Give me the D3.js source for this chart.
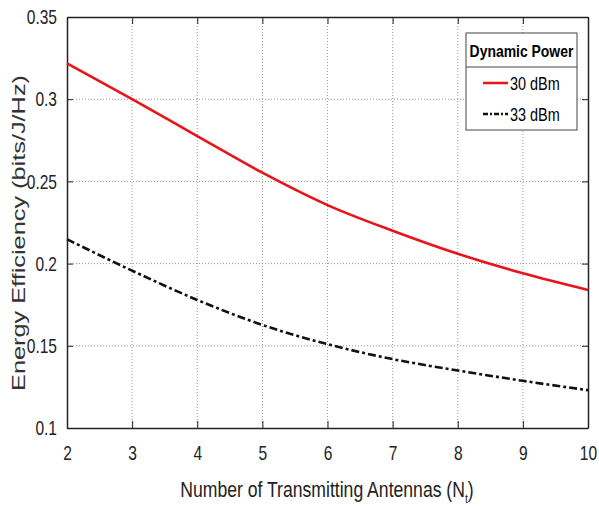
<!DOCTYPE html>
<html>
<head>
<meta charset="utf-8">
<script src="https://cdn.jsdelivr.net/npm/d3@7"></script>
<style>
  body { margin: 0; background: #fff; }
  text { font-family: 'Liberation Sans', Arial, sans-serif; }
</style>
</head>
<body>
<svg id="chart" width="599" height="508"></svg>
<script>
const antennas = [2, 3, 4, 5, 6, 7, 8, 9, 10]
const ee30 = [0.3218, 0.3000, 0.2776, 0.2553, 0.2356, 0.2200, 0.2060, 0.1941, 0.1840]
const ee33 = [0.2148, 0.1957, 0.1779, 0.1627, 0.1510, 0.1419, 0.1350, 0.1287, 0.1230]
const yTicks = [0.1, 0.15, 0.2, 0.25, 0.3, 0.35]
const seriesNames = ['30 dBm', '33 dBm']

// squeeze text horizontally to mimic the narrow MATLAB font
const condense = function (sel, factor) {
  sel.each(function () {
    const w = this.getComputedTextLength()
    d3.select(this).attr('textLength', w * factor).attr('lengthAdjust', 'spacingAndGlyphs')
  })
}

const svg = d3.select('#chart')
const margin = { left: 67, right: 11, top: 17, bottom: 80 }
const width = +svg.attr('width')
const height = +svg.attr('height')
const innerWidth = width - margin.left - margin.right
const innerHeight = height - margin.top - margin.bottom

const g = svg.append('g')
  .attr('transform', `translate(${margin.left},${margin.top})`)

const x = d3.scaleLinear().domain([2, 10]).range([0, innerWidth])
const y = d3.scaleLinear().domain([0.1, 0.35]).range([innerHeight, 0])

// grid
g.append('g').selectAll('line').data(antennas.slice(1, -1))
  .enter().append('line')
  .attr('x1', d => x(d)).attr('x2', d => x(d))
  .attr('y1', 0).attr('y2', innerHeight)
  .attr('stroke', '#999').attr('stroke-dasharray', '1,2')
g.append('g').selectAll('line').data(yTicks.slice(1, -1))
  .enter().append('line')
  .attr('y1', d => y(d)).attr('y2', d => y(d))
  .attr('x1', 0).attr('x2', innerWidth)
  .attr('stroke', '#999').attr('stroke-dasharray', '1,2')

// axes
const fmt = d => String(+d.toFixed(2))
g.append('g').attr('transform', `translate(0,${innerHeight})`)
  .call(d3.axisBottom(x).tickValues(antennas).tickSizeInner(-7).tickSizeOuter(0).tickPadding(17))
g.append('g')
  .call(d3.axisTop(x).tickValues(antennas).tickSizeInner(-7).tickSizeOuter(0).tickFormat(''))
g.append('g')
  .call(d3.axisLeft(y).tickValues(yTicks).tickFormat(fmt).tickSizeInner(-6).tickSizeOuter(0).tickPadding(10))
g.append('g').attr('transform', `translate(${innerWidth},0)`)
  .call(d3.axisRight(y).tickValues(yTicks).tickSizeInner(-6).tickSizeOuter(0).tickFormat(''))

svg.selectAll('.tick text')
  .style('font-family', "'Liberation Sans', Arial, sans-serif")
  .style('font-size', '21px')
  .attr('fill', '#222')
  .call(condense, 0.74)
svg.selectAll('.domain').attr('stroke', '#222').attr('stroke-width', 1.5)
svg.selectAll('.tick line').attr('stroke', '#222')

// lines
const line = d3.line().x((d, i) => x(antennas[i])).y(d => y(d)).curve(d3.curveMonotoneX)
g.append('path').datum(ee30)
  .attr('d', line).attr('fill', 'none')
  .attr('stroke', '#e8141a').attr('stroke-width', 2.6)
g.append('path').datum(ee33)
  .attr('d', line).attr('fill', 'none')
  .attr('stroke', '#111').attr('stroke-width', 2.6)
  .attr('stroke-dasharray', '8,3,3,3')

// axis labels
svg.append('text')
  .attr('x', 327)
  .attr('y', 497)
  .attr('text-anchor', 'middle')
  .style('font-size', '22px')
  .attr('fill', '#222')
  .html('Number of Transmitting Antennas (N<tspan dy="6" font-size="13">t</tspan><tspan dy="-6">)</tspan>')
  .call(condense, 0.8)

svg.append('text')
  .attr('transform', `translate(25,${233}) rotate(-90)`)
  .attr('text-anchor', 'middle')
  .style('font-size', '19px')
  .attr('fill', '#333')
  .attr('textLength', 316)
  .attr('lengthAdjust', 'spacingAndGlyphs')
  .text('Energy Efficiency (bits/J/Hz)')

// legend
const lg = svg.append('g').attr('transform', 'translate(466,33)')
lg.append('rect').attr('width', 111).attr('height', 97)
  .attr('fill', '#fff').attr('stroke', '#444').attr('stroke-width', 1)
lg.append('line').attr('x1', 0).attr('x2', 111).attr('y1', 34).attr('y2', 34)
  .attr('stroke', '#444')
lg.append('text')
  .attr('x', 55.5).attr('y', 24).attr('text-anchor', 'middle')
  .style('font-size', '17px').style('font-weight', 'bold')
  .text('Dynamic Power')
  .call(condense, 0.82)
const styles = [
  { stroke: '#e8141a', dash: null },
  { stroke: '#111', dash: '5,2,2,2' }
]
seriesNames.forEach((name, i) => {
  const yy = 50 + i * 31
  lg.append('line').attr('x1', 17).attr('x2', 42).attr('y1', yy).attr('y2', yy)
    .attr('stroke', styles[i].stroke).attr('stroke-width', 2.5)
    .attr('stroke-dasharray', styles[i].dash)
  lg.append('text')
    .attr('x', 44).attr('y', yy + 7)
    .style('font-size', '19px')
    .text(name)
    .call(condense, 0.76)
})
</script>
</body>
</html>
